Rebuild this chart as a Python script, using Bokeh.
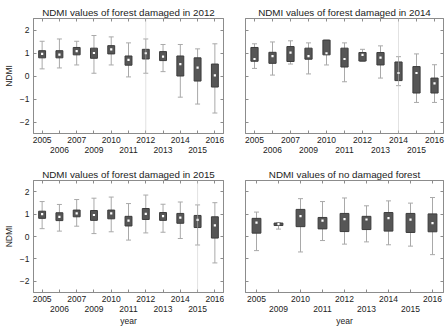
from bokeh.plotting import figure
from bokeh.models import FixedTicker, LinearAxis, Range1d, Span
from bokeh.layouts import column, row
from bokeh.embed import file_html
from bokeh.resources import INLINE

# Years shown on the x axis of each panel
YEARS_DAMAGED = ["2005", "2006", "2007", "2009", "2010", "2011",
                 "2012", "2013", "2014", "2015", "2016"]
YEARS_UNDAMAGED = ["2005", "2009", "2010", "2011", "2012", "2013",
                   "2014", "2015", "2016"]
Y_TICKS = [-2, -1, 0, 1, 2]

# Forest damaged in 2012: whisker low, lower quartile, median, upper quartile, whisker high
d2012_low = [0.31, 0.35, 0.48, 0.12, 0.48, -0.04, 0.12, 0.19, -0.92, -1.22, -1.61]
d2012_q1 = [0.79, 0.79, 0.92, 0.77, 0.96, 0.47, 0.74, 0.67, 0.00, -0.22, -0.48]
d2012_med = [0.96, 0.93, 1.08, 1.00, 1.16, 0.70, 0.99, 0.84, 0.52, 0.36, 0.03]
d2012_q3 = [1.10, 1.10, 1.24, 1.21, 1.32, 0.87, 1.16, 1.06, 0.87, 0.79, 0.52]
d2012_high = [1.51, 1.61, 1.51, 1.76, 1.70, 1.44, 1.61, 1.37, 1.37, 1.18, 1.40]

# Forest damaged in 2014
d2014_low = [0.33, 0.04, 0.52, 0.09, 0.48, -0.25, 0.63, -0.09, -0.42, -1.15, -1.15]
d2014_q1 = [0.64, 0.55, 0.63, 0.73, 0.92, 0.39, 0.65, 0.48, -0.20, -0.74, -0.74]
d2014_med = [0.74, 0.86, 1.02, 0.86, 0.99, 0.74, 0.92, 0.80, 0.13, 0.13, -0.32]
d2014_q3 = [1.24, 1.03, 1.28, 1.21, 1.56, 1.21, 1.02, 1.02, 0.61, 0.41, -0.09]
d2014_high = [1.40, 1.48, 1.53, 1.44, 1.56, 1.44, 1.16, 1.31, 0.84, 0.96, 0.49]

# Forest damaged in 2015
d2015_low = [0.35, 0.24, 0.46, 0.13, 0.21, -0.16, 0.16, 0.19, -0.09, -0.38, -1.18]
d2015_q1 = [0.81, 0.71, 0.88, 0.72, 0.79, 0.47, 0.76, 0.72, 0.59, 0.40, -0.07]
d2015_med = [1.00, 0.88, 1.03, 0.96, 1.03, 0.71, 1.01, 0.91, 0.84, 0.74, 0.50]
d2015_q3 = [1.13, 1.06, 1.18, 1.16, 1.18, 0.90, 1.25, 1.07, 1.03, 0.94, 0.88]
d2015_high = [1.56, 1.43, 1.65, 1.71, 1.76, 1.47, 1.85, 1.44, 1.54, 1.41, 1.51]

# Undamaged forest
nd_low = [-0.63, 0.33, -0.69, -0.18, -0.34, -0.24, -0.37, -0.43, -0.81]
nd_q1 = [0.15, 0.49, 0.44, 0.34, 0.22, 0.31, 0.24, 0.18, 0.21]
nd_med = [0.62, 0.55, 0.91, 0.71, 0.78, 0.76, 0.82, 0.75, 0.60]
nd_q3 = [0.81, 0.60, 1.21, 0.85, 1.03, 0.90, 1.07, 1.03, 1.01]
nd_high = [1.09, 0.61, 1.69, 1.56, 1.72, 1.37, 1.59, 1.49, 1.74]

FONT = "Liberation Sans"
FRAME = "#8c8c8c"
TEXT = "#222222"


def blank_axis(ticks):
    ax = LinearAxis(ticker=FixedTicker(ticks=ticks, minor_ticks=[]))
    ax.major_label_overrides = {t: "" for t in ticks}
    ax.major_label_standoff = 0
    ax.major_label_text_font_size = "1px"
    ax.major_tick_in = 3
    ax.major_tick_out = 0
    ax.minor_tick_line_color = None
    ax.axis_line_color = FRAME
    ax.major_tick_line_color = FRAME
    return ax


def panel(title, years, low, q1, med, q3, high, marker_year,
          left_labels, year_label, width, height, border_left, border_right,
          border_top, border_bottom):
    n = len(years)
    pos = list(range(1, n + 1))
    p = figure(width=width, height=height, output_backend="svg",
               toolbar_location=None, x_range=Range1d(0.5, n + 0.5),
               y_range=Range1d(-2.5, 2.5),
               min_border_left=border_left, min_border_right=border_right,
               min_border_top=border_top, min_border_bottom=border_bottom)
    p.background_fill_color = "white"
    p.border_fill_color = "white"
    p.outline_line_color = FRAME
    p.xgrid.visible = False
    p.ygrid.visible = False

    p.title.text = title
    p.title.align = "center"
    p.title.text_font = FONT
    p.title.text_font_size = "9.8px"
    p.title.text_font_style = "normal"
    p.title.text_color = TEXT
    p.title.standoff = 1

    # bottom axis: odd positions labelled in the first row
    xa = p.xaxis[0]
    xa.ticker = FixedTicker(ticks=pos, minor_ticks=[])
    xa.major_label_overrides = {i: (years[i - 1] if i % 2 == 1 else "")
                                for i in pos}
    xa.major_tick_in = 3
    xa.major_tick_out = 0
    xa.minor_tick_line_color = None
    xa.axis_line_color = FRAME
    xa.major_tick_line_color = FRAME
    xa.major_label_standoff = 3
    xa.major_label_text_font = FONT
    xa.major_label_text_font_size = "8.5px"
    xa.major_label_text_color = TEXT

    # second row of year labels for even positions
    even = [i for i in pos if i % 2 == 0]
    xb = LinearAxis(ticker=FixedTicker(ticks=even, minor_ticks=[]))
    xb.major_label_overrides = {i: years[i - 1] for i in even}
    xb.major_tick_in = 0
    xb.major_tick_out = 0
    xb.minor_tick_line_color = None
    xb.axis_line_color = None
    xb.major_label_standoff = 1
    xb.major_label_text_font = FONT
    xb.major_label_text_font_size = "8.5px"
    xb.major_label_text_color = TEXT
    if year_label:
        xb.axis_label = "year"
        xb.axis_label_standoff = 1
        xb.axis_label_text_font = FONT
        xb.axis_label_text_font_size = "8.5px"
        xb.axis_label_text_font_style = "normal"
        xb.axis_label_text_color = TEXT
    p.add_layout(xb, "below")

    ya = p.yaxis[0]
    ya.ticker = FixedTicker(ticks=Y_TICKS, minor_ticks=[])
    ya.major_tick_in = 3
    ya.major_tick_out = 0
    ya.minor_tick_line_color = None
    ya.axis_line_color = FRAME
    ya.major_tick_line_color = FRAME
    if left_labels:
        ya.major_label_standoff = 4
        ya.major_label_text_font = FONT
        ya.major_label_text_font_size = "8.5px"
        ya.major_label_text_color = TEXT
        ya.axis_label = "NDMI"
        ya.axis_label_standoff = 3
        ya.axis_label_text_font = FONT
        ya.axis_label_text_font_size = "8.5px"
        ya.axis_label_text_font_style = "normal"
        ya.axis_label_text_color = TEXT
    else:
        ya.major_label_overrides = {t: "" for t in Y_TICKS}
        ya.major_label_standoff = 0
        ya.major_label_text_font_size = "1px"

    p.add_layout(blank_axis(Y_TICKS), "right")
    p.add_layout(blank_axis(pos), "above")

    if marker_year is not None:
        p.add_layout(Span(location=years.index(marker_year) + 1,
                          dimension="height", line_color="#c4c4c4",
                          line_dash="1 1", line_width=1))

    # whiskers, caps, boxes, medians
    p.segment(x0=pos, y0=low, x1=pos, y1=high, line_color="#a9a9a9",
              line_width=1)
    p.scatter(x=pos, y=high, marker="dash", size=5, line_color="#a9a9a9")
    p.scatter(x=pos, y=low, marker="dash", size=5, line_color="#a9a9a9")
    p.vbar(x=pos, width=0.4, bottom=q1, top=q3, fill_color="#565656",
           line_color="#3c3c3c", line_width=1)
    p.scatter(x=pos, y=med, marker="square", size=2.2, fill_color="white",
              line_color=None)
    return p


p1 = panel("NDMI values of forest damaged in 2012", YEARS_DAMAGED,
           d2012_low, d2012_q1, d2012_med, d2012_q3, d2012_high, "2012",
           True, False, 224, 160, 23, 1, 18, 27)
p2 = panel("NDMI values of forest damaged in 2014", YEARS_DAMAGED,
           d2014_low, d2014_q1, d2014_med, d2014_q3, d2014_high, "2014",
           False, False, 223, 160, 21, 4, 18, 27)
p3 = panel("NDMI values of forest damaged in 2015", YEARS_DAMAGED,
           d2015_low, d2015_q1, d2015_med, d2015_q3, d2015_high, "2015",
           True, True, 224, 168, 23, 1, 20, 34)
p4 = panel("NDMI values of no damaged forest", YEARS_UNDAMAGED,
           nd_low, nd_q1, nd_med, nd_q3, nd_high, None,
           False, True, 223, 168, 21, 4, 20, 34)

layout = column(row(p1, p2, spacing=0), row(p3, p4, spacing=0), spacing=0)
open("out.html", "w").write(file_html(layout, INLINE))
